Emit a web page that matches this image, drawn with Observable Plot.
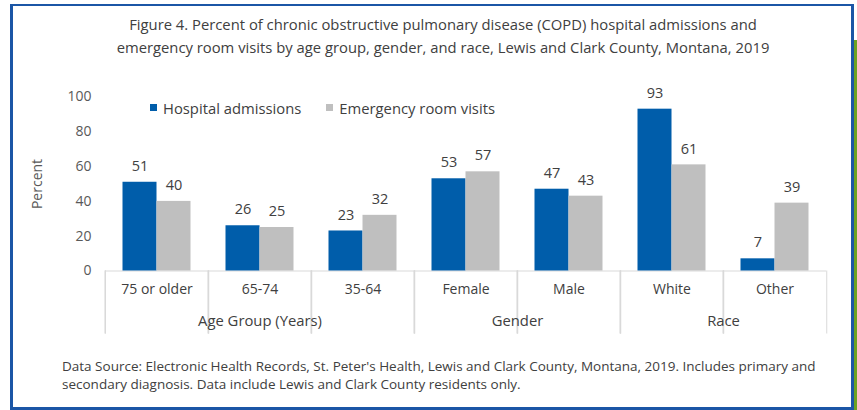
<!DOCTYPE html>
<html>
<head>
<meta charset="utf-8">
<script src="https://cdn.jsdelivr.net/npm/d3@7"></script>
<script src="https://cdn.jsdelivr.net/npm/@observablehq/plot@0.6"></script>
<style>
  html, body { margin: 0; padding: 0; background: #fff; }
  #wrap { position: relative; width: 857px; height: 410px; overflow: hidden; background: #fff; font-family: "Open Sans", Lato, sans-serif; color: #404040; }
  #border { position: absolute; left: 10px; top: 4px; width: 844px; height: 406px; box-sizing: border-box; border: 3px solid #1B56A6; border-top-width: 2px; }
  #stripe { position: absolute; left: 854px; top: 40px; width: 3px; height: 370px; background: #6BA223; }
  #title { position: absolute; left: 0; top: 13px; width: 886px; text-align: center; font-size: 14.8px; line-height: 23px; color: #404040; }
  #legend { position: absolute; left: 150px; top: 97px; font-size: 14.8px; line-height: 16px; color: #404040; white-space: nowrap; }
  #legend .item { display: inline-flex; align-items: center; margin-right: 25px; }
  #legend .sw { display: inline-block; width: 7px; height: 7px; margin-right: 6px; }
  #chart { position: absolute; left: 0; top: 60px; }
  #caption { position: absolute; left: 62px; top: 357px; font-size: 13.5px; line-height: 18px; color: #404040; white-space: nowrap; }
</style>
</head>
<body>
<div id="wrap">
  <div id="border"></div>
  <div id="stripe"></div>
  <div id="title">Figure 4. Percent of chronic obstructive pulmonary disease (COPD) hospital admissions and<br>emergency room visits by age group, gender, and race, Lewis and Clark County, Montana, 2019</div>
  <div id="legend"></div>
  <div id="chart"></div>
  <div id="caption">Data Source: Electronic Health Records, St. Peter's Health, Lewis and Clark County, Montana, 2019. Includes primary and<br>secondary diagnosis. Data include Lewis and Clark County residents only.</div>
</div>
<script>
// ---- data ----
const categories = ["75 or older", "65-74", "35-64", "Female", "Male", "White", "Other"];
const groups = ["Age Group (Years)", "Age Group (Years)", "Age Group (Years)", "Gender", "Gender", "Race", "Race"];
const series = ["Hospital admissions", "Emergency room visits"];
const hospitalAdmissions = [51, 26, 23, 53, 47, 93, 7];
const emergencyRoomVisits = [40, 25, 32, 57, 43, 61, 39];
const yTicks = [0, 20, 40, 60, 80, 100];
const seriesColors = ["#005DAA", "#BFBFBF"];

// ---- layout ----
const W = 857, H = 286;
const mL = 103.5, mR = 29, mT = 36.5, mB = 75.5;
const step = (W - mL - mR) / categories.length;

const rows = categories.flatMap((c, i) => [
  {category: c, series: series[0], value: hospitalAdmissions[i]},
  {category: c, series: series[1], value: emergencyRoomVisits[i]}
]);

const groupNames = [...new Set(groups)];
const groupRows = groupNames.map(g => {
  const members = categories.filter((c, i) => groups[i] === g);
  const n = members.length;
  return {group: g, facet: members[Math.floor((n - 1) / 2)], odd: n % 2 === 1};
});
const groupStarts = groupNames.map(g => categories[groups.indexOf(g)]);
const lastCategory = categories[categories.length - 1];

const textColor = "#404040";
const lineColor = "#D9D9D9";
const font = "'Open Sans', Lato, sans-serif";

const plot = Plot.plot({
  width: W, height: H,
  marginLeft: mL, marginRight: mR, marginTop: mT, marginBottom: mB,
  style: {fontFamily: font, fontSize: "14px", color: textColor, background: "transparent", overflow: "visible"},
  fx: {domain: categories, paddingInner: 0, paddingOuter: 0, axis: null, label: null},
  x: {domain: series, paddingInner: 0, paddingOuter: 0.5, axis: null, label: null},
  y: {domain: [0, 100], axis: null},
  color: {domain: series, range: seriesColors},
  marks: [
    Plot.axisY({ticks: yTicks, tickSize: 0, tickPadding: 14, label: "Percent", labelAnchor: "center", labelArrow: "none", labelOffset: 73, fontSize: 14, fill: "#595959"}),
    Plot.ruleY([0], {stroke: lineColor}),
    Plot.barY(rows, {fx: "category", x: "series", y: "value", fill: "series"}),
    Plot.text(rows, {fx: "category", x: "series", y: "value", text: d => String(d.value), dy: -16, fill: textColor, fontSize: 14.5}),
    Plot.axisFx({anchor: "bottom", tickSize: 0, tickPadding: 13, label: null, fontSize: 14, fill: textColor}),
    Plot.axisFx(groupStarts, {anchor: "bottom", tickSize: 63, dx: -step / 2, stroke: lineColor, fill: "none", label: null}),
    Plot.axisFx([lastCategory], {anchor: "bottom", tickSize: 63, dx: step / 2, stroke: lineColor, fill: "none", label: null}),
    Plot.text(groupRows.filter(d => d.odd), {fx: "facet", text: "group", frameAnchor: "bottom", dy: 55, fill: textColor, fontSize: 14.8}),
    Plot.text(groupRows.filter(d => !d.odd), {fx: "facet", text: "group", frameAnchor: "bottom-right", textAnchor: "middle", dy: 55, fill: textColor, fontSize: 14.8})
  ]
});
document.getElementById("chart").appendChild(plot);

// legend
const legend = document.getElementById("legend");
series.forEach((s, i) => {
  const item = document.createElement("span");
  item.className = "item";
  const sw = document.createElement("span");
  sw.className = "sw";
  sw.style.background = seriesColors[i];
  item.appendChild(sw);
  item.appendChild(document.createTextNode(s));
  legend.appendChild(item);
});
</script>
</body>
</html>
